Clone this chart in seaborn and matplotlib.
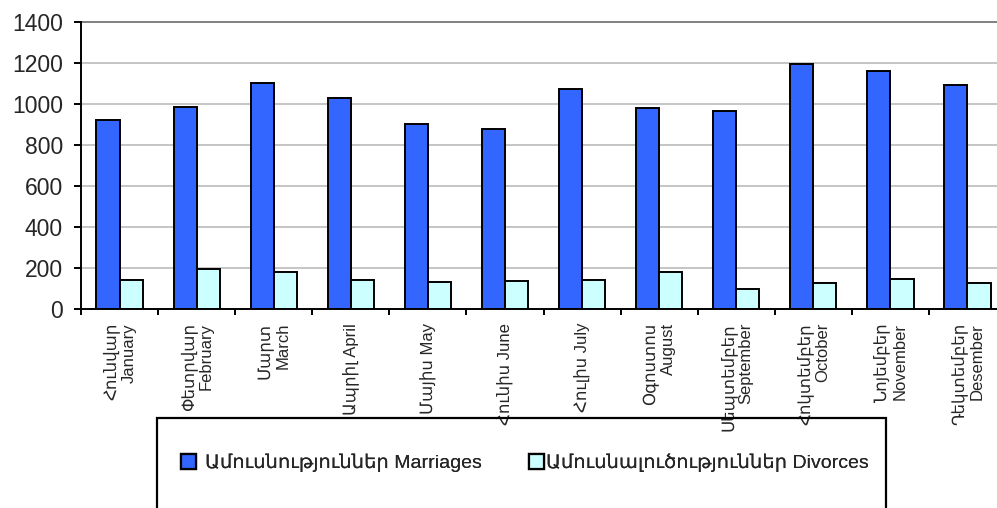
import matplotlib
matplotlib.use("Agg")
import matplotlib.pyplot as plt
from matplotlib.patches import Rectangle
import seaborn as sns
import pandas as pd

months = ["Հունվար\nJanuary", "Փետրվար\nFebruary", "Մարտ\nMarch", "Ապրիլ April",
          "Մայիս May", "Հունիս June", "Հուլիս July", "Օգոստոս\nAugust",
          "Սեպտեմբեր\nSeptember", "Հոկտեմբեր\nOctober", "Նոյեմբեր\nNovember",
          "Դեկտեմբեր\nDesember"]
marriages = [922, 984, 1101, 1029, 902, 880, 1073, 979, 964, 1193, 1161, 1094]
divorces = [141, 197, 182, 141, 133, 137, 140, 179, 96, 125, 146, 128]
series_names = ["Ամուսնություններ Marriages", "Ամուսնալուծություններ Divorces"]
yticks = [0, 200, 400, 600, 800, 1000, 1200, 1400]

sns.set_style("white")
FAM = ["Liberation Sans", "DejaVu Sans"]
plt.rcParams["font.family"] = FAM

df = pd.DataFrame({
    "month": months * 2,
    "value": marriages + divorces,
    "series": [series_names[0]] * len(months) + [series_names[1]] * len(months),
})

fig = plt.figure(figsize=(9.97, 5.08), dpi=100)
ax = fig.add_axes([81 / 997, 1 - 309 / 508, 925 / 997, 287 / 508])

sns.barplot(data=df, x="month", y="value", hue="series", order=months,
            hue_order=series_names, palette=["#3366FF", "#CCFFFF"],
            saturation=1, width=0.6, edgecolor="black", linewidth=1.4,
            ax=ax, legend=True)

ax.set_xlim(-0.5, len(months) - 0.5)
ax.set_ylim(0, 1400)
ax.set_yticks(yticks)
ax.set_yticklabels([str(v) for v in yticks], fontsize=16.5)
ax.set_xlabel("")
ax.set_ylabel("")

# gridlines
for v in yticks[1:-1]:
    ax.axhline(v, color="#c0c0c0", linewidth=1.3, zorder=0)
ax.axhline(1400, color="#808080", linewidth=1.4, zorder=0, clip_on=False)

for s in ["top", "right"]:
    ax.spines[s].set_visible(False)
for s in ["left", "bottom"]:
    ax.spines[s].set_color("black")
    ax.spines[s].set_linewidth(1.4)

ax.tick_params(axis="y", direction="out", length=5, width=1.4, pad=8,
               left=True, color="black")
# category labels at centers, tick marks at boundaries
ax.set_xticks(range(len(months)))
ax.set_xticklabels(months, rotation=90, fontsize=12, va="top", ha="center",
                   multialignment="right", linespacing=1.15)
ax.tick_params(axis="x", which="major", length=0, pad=10)
ax.set_xticks([i - 0.5 for i in range(len(months) + 1)], minor=True)
ax.tick_params(axis="x", which="minor", direction="out", length=4.5,
               width=1.4, bottom=True, color="black")

# legend
handles, labels = ax.get_legend_handles_labels()
ax.get_legend().remove()
fig.patches.append(Rectangle((157 / 997, -0.1), (886 - 157) / 997, 0.1 + 1 - 418 / 508,
                             transform=fig.transFigure, fill=False,
                             edgecolor="black", linewidth=1.6))
for h in handles:
    h.set_linewidth(1.6)
leg_pos = [(181 / 997, 0.45), (529 / 997, 0.12)]
for h, lab, (xpos, pad) in zip(handles, labels, leg_pos):
    lg = fig.legend([h], [lab], loc="center left",
                    bbox_to_anchor=(xpos, 1 - 463 / 508),
                    frameon=False, fontsize=14, handlelength=0.76,
                    handleheight=0.76, handletextpad=pad,
                    borderaxespad=0, borderpad=0)
    fig.add_artist(lg)

fig.savefig("out.png", dpi=100)
